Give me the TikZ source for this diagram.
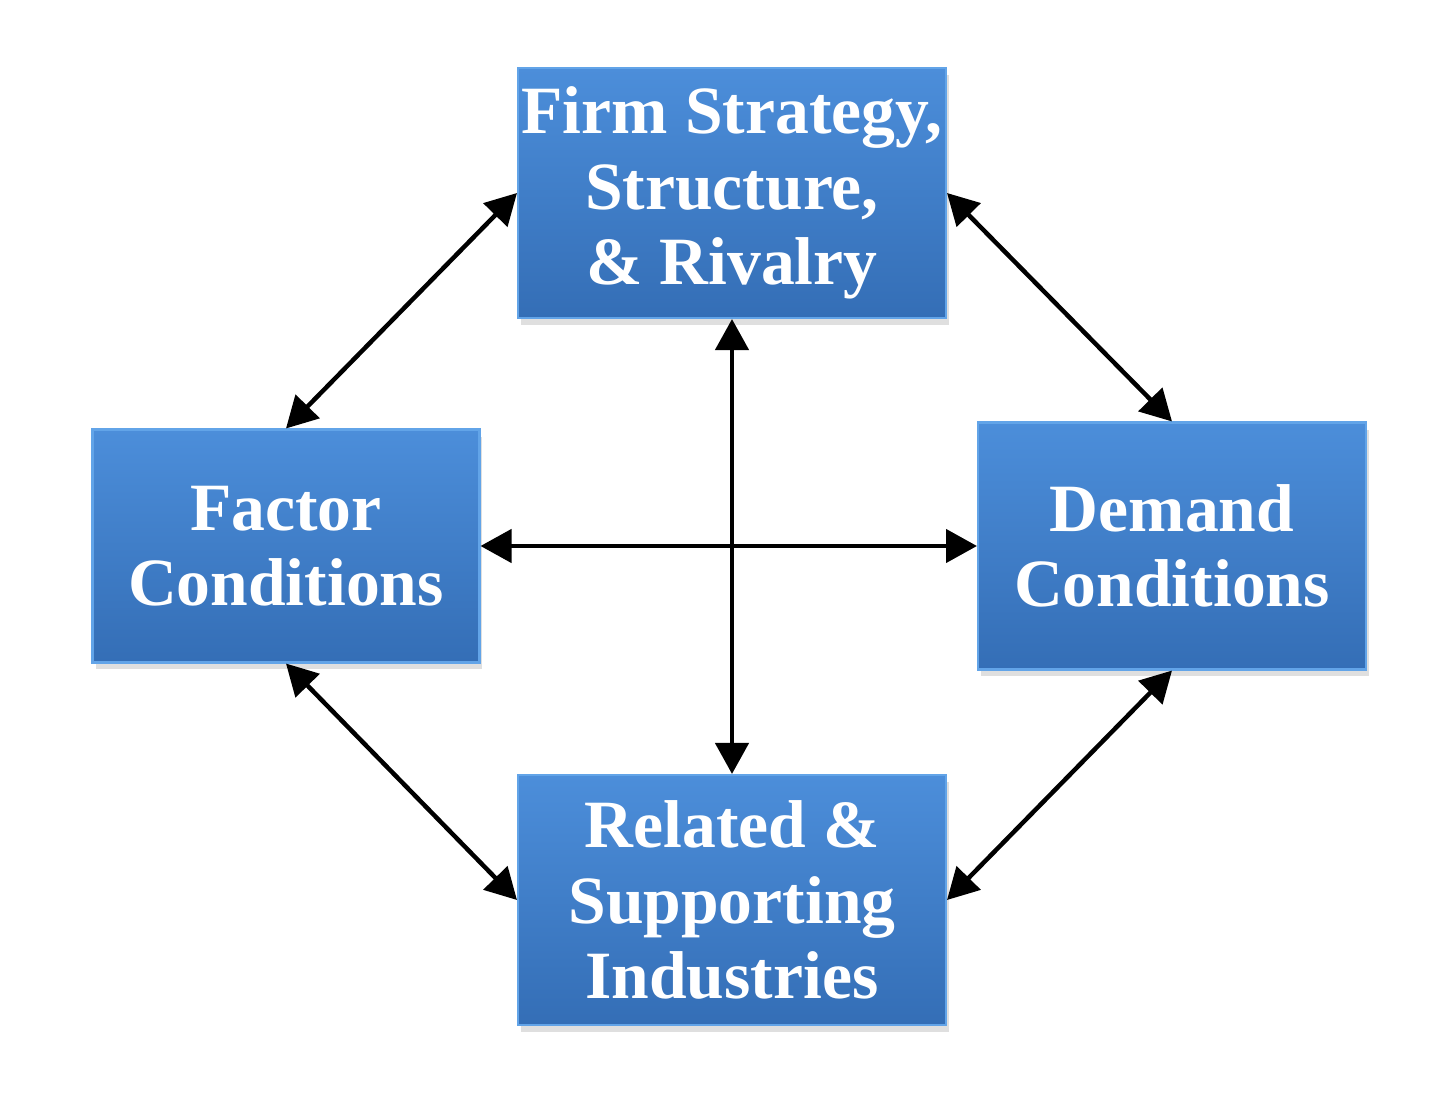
\documentclass[tikz,border=0pt]{standalone}
\usepackage{fontspec}
\setmainfont{Liberation Serif}
\usetikzlibrary{arrows.meta,shadows,positioning}
\definecolor{forcetop}{RGB}{76,142,218}
\definecolor{forcebot}{RGB}{52,110,182}
\definecolor{forceedge}{RGB}{98,164,232}
\begin{document}
\begin{tikzpicture}[x=0.02cm,y=-0.02cm,
    force/.style={rectangle, draw=forceedge, line width=1.2pt,
      top color=forcetop, bottom color=forcebot, text=white,
      font=\bfseries\fontsize{38.5}{43}\selectfont, align=center, inner sep=0pt,
      drop shadow={opacity=0.25, shadow xshift=0.06cm, shadow yshift=-0.14cm}},
    link/.style={{Triangle[length=0.62cm,width=0.66cm]}-{Triangle[length=0.62cm,width=0.66cm]},
      line width=0.09cm, black}]
  \useasboundingbox (0,0) rectangle (1440,1114);
  % the four corners of the diamond
  \node[force, minimum width=8.56cm, minimum height=5cm] (firm) at (732,193)
    {Firm Strategy,\\ Structure,\\ \& Rivalry};
  \node[force, minimum width=7.74cm, minimum height=4.66cm] (factor) at (286,546)
    {Factor\\ Conditions};
  \node[force, minimum width=7.76cm, minimum height=4.94cm] (demand) at (1172,546)
    {Demand\\ Conditions};
  \node[force, minimum width=8.56cm, minimum height=5cm] (related) at (732,900)
    {Related \&\\ Supporting\\ Industries};
  % links
  \draw[link] (firm.west) -- (factor.north);
  \draw[link] (firm.east) -- (demand.north);
  \draw[link] (factor.south) -- (related.west);
  \draw[link] (demand.south) -- (related.east);
  \draw[link] (firm.south) -- (related.north);
  \draw[link] (factor.east) -- (demand.west);
\end{tikzpicture}
\end{document}
